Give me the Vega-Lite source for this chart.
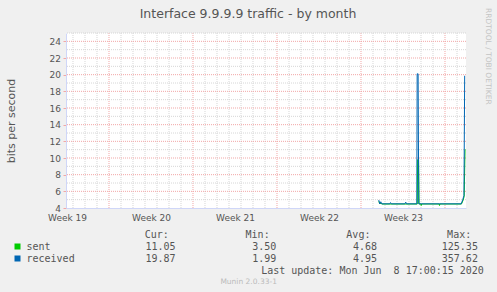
{
  "$schema": "https://vega.github.io/schema/vega-lite/v6.json",
  "background": "#f0f0f0",
  "padding": {"left": 5, "top": 8, "right": 5, "bottom": 7},
  "spacing": 8,
  "title": {"text": "RRDTOOL / TOBI OETIKER", "orient": "right", "anchor": "start", "frame": "bounds", "fontSize": 7.5, "color": "#c4c4c4", "offset": 1, "font": "DejaVu Sans", "fontWeight": "normal"},
  "config": {
    "font": "DejaVu Sans",
    "view": {"stroke": null},
    "axis": {"labelFont": "DejaVu Sans", "labelFontSize": 9, "labelColor": "#555555", "titleFont": "DejaVu Sans", "titleFontWeight": "normal", "titleColor": "#555555"},
    "text": {"font": "DejaVu Sans Mono", "fontSize": 10, "color": "#555555"},
    "title": {"fontWeight": "normal"}
  },
  "datasets": {
    "traffic": [
      {"series": "received", "day": 22.48, "bps": 4.95},
      {"series": "received", "day": 22.57, "bps": 4.5},
      {"series": "received", "day": 22.65, "bps": 4.75},
      {"series": "received", "day": 22.73, "bps": 4.5},
      {"series": "received", "day": 23.40, "bps": 4.5},
      {"series": "received", "day": 23.46, "bps": 4.65},
      {"series": "received", "day": 23.52, "bps": 4.5},
      {"series": "received", "day": 24.65, "bps": 4.5},
      {"series": "received", "day": 24.73, "bps": 4.7},
      {"series": "received", "day": 24.79, "bps": 4.5},
      {"series": "received", "day": 25.65, "bps": 4.5},
      {"series": "received", "day": 25.68, "bps": 20.1},
      {"series": "received", "day": 25.76, "bps": 20.1},
      {"series": "received", "day": 25.81, "bps": 4.5},
      {"series": "received", "day": 29.35, "bps": 4.5},
      {"series": "received", "day": 29.48, "bps": 5.0},
      {"series": "received", "day": 29.58, "bps": 5.5},
      {"series": "received", "day": 29.64, "bps": 19.87},
      {"series": "sent", "day": 22.48, "bps": 4.8},
      {"series": "sent", "day": 22.57, "bps": 4.48},
      {"series": "sent", "day": 22.65, "bps": 4.6},
      {"series": "sent", "day": 22.73, "bps": 4.48},
      {"series": "sent", "day": 25.69, "bps": 4.48},
      {"series": "sent", "day": 25.72, "bps": 9.8},
      {"series": "sent", "day": 25.80, "bps": 9.8},
      {"series": "sent", "day": 25.84, "bps": 4.48},
      {"series": "sent", "day": 26.0, "bps": 4.48},
      {"series": "sent", "day": 26.02, "bps": 4.3},
      {"series": "sent", "day": 26.05, "bps": 4.48},
      {"series": "sent", "day": 27.52, "bps": 4.48},
      {"series": "sent", "day": 27.54, "bps": 4.3},
      {"series": "sent", "day": 27.57, "bps": 4.48},
      {"series": "sent", "day": 29.37, "bps": 4.48},
      {"series": "sent", "day": 29.50, "bps": 4.9},
      {"series": "sent", "day": 29.60, "bps": 5.4},
      {"series": "sent", "day": 29.67, "bps": 11.05}
    ],
    "xgrid": [
      {"day": -3}, {"day": -2}, {"day": -1}, {"day": 0}, {"day": 1}, {"day": 2}, {"day": 3}, {"day": 4}, {"day": 5}, {"day": 6},
      {"day": 7}, {"day": 8}, {"day": 9}, {"day": 10}, {"day": 11}, {"day": 12}, {"day": 13}, {"day": 14}, {"day": 15}, {"day": 16},
      {"day": 17}, {"day": 18}, {"day": 19}, {"day": 20}, {"day": 21}, {"day": 22}, {"day": 23}, {"day": 24}, {"day": 25}, {"day": 26},
      {"day": 27}, {"day": 28}, {"day": 29}
    ],
    "ygrid": [
      {"bps": 5}, {"bps": 6}, {"bps": 7}, {"bps": 8}, {"bps": 9}, {"bps": 10}, {"bps": 11}, {"bps": 12}, {"bps": 13}, {"bps": 14}, {"bps": 15},
      {"bps": 16}, {"bps": 17}, {"bps": 18}, {"bps": 19}, {"bps": 20}, {"bps": 21}, {"bps": 22}, {"bps": 23}, {"bps": 24}, {"bps": 25}
    ],
    "stats": [
      {"series": "sent", "stat": "Cur", "value": 11.05},
      {"series": "sent", "stat": "Min", "value": 3.50},
      {"series": "sent", "stat": "Avg", "value": 4.68},
      {"series": "sent", "stat": "Max", "value": 125.35},
      {"series": "received", "stat": "Cur", "value": 19.87},
      {"series": "received", "stat": "Min", "value": 1.99},
      {"series": "received", "stat": "Avg", "value": 4.95},
      {"series": "received", "stat": "Max", "value": 357.62}
    ],
    "headers": [
      {"stat": "Cur", "label": "Cur:"},
      {"stat": "Min", "label": "Min:"},
      {"stat": "Avg", "label": "Avg:"},
      {"stat": "Max", "label": "Max:"}
    ],
    "update": [
      {"label": "Last update: Mon Jun \u00a08 17:00:15 2020"}
    ]
  },
  "vconcat": [
    {
      "width": 400,
      "height": 175,
      "view": {"fill": "white", "stroke": null},
      "title": {"text": "Interface 9.9.9.9 traffic - by month", "fontSize": 12.5, "color": "#555555", "anchor": "middle", "frame": "group", "dx": -18, "offset": 12, "font": "DejaVu Sans", "fontWeight": "normal"},
      "layer": [
        {
          "data": {"name": "xgrid"},
          "mark": {"type": "rule", "strokeWidth": 1, "strokeDash": [1, 1]},
          "encoding": {
            "x": {"field": "day", "type": "quantitative", "scale": {"domain": [-3.5833, 29.75], "nice": false, "zero": false},
              "axis": {"orient": "bottom", "values": [-3.5, 3.5, 10.5, 17.5, 24.5],
                "labelExpr": "'Week ' + (20 + floor(datum.value / 7))", "grid": false, "ticks": false,
                "domain": true, "domainColor": "#cfd6f8", "labelPadding": 5, "labelFlush": false, "labelOverlap": false, "title": null, "zindex": 1}},
            "color": {"condition": {"test": "datum.day % 7 === 0", "value": "#f2a7a7"}, "value": "#d6d6d6"}
          }
        },
        {
          "data": {"name": "ygrid"},
          "mark": {"type": "rule", "strokeWidth": 1, "strokeDash": [1, 1]},
          "encoding": {
            "y": {"field": "bps", "type": "quantitative", "scale": {"domain": [4, 25], "nice": false, "zero": false},
              "axis": {"orient": "left", "values": [4,6,8,10,12,14,16,18,20,22,24], "grid": false,
                "tickSize": 3, "tickColor": "#f2a7a7", "labelPadding": 2.5, "labelFlush": false, "labelOverlap": false,
                "domainColor": "#cfd6f8", "title": "bits per second", "titleFontSize": 11, "titlePadding": 33, "zindex": 1}},
            "color": {"condition": {"test": "datum.bps % 2 === 0", "value": "#f2a7a7"}, "value": "#d6d6d6"}
          }
        },
        {
          "data": {"name": "traffic"},
          "transform": [{"filter": "datum.series === 'sent'"}],
          "mark": {"type": "line", "strokeWidth": 1},
          "encoding": {
            "x": {"field": "day", "type": "quantitative", "scale": {"domain": [-3.5833, 29.75], "nice": false, "zero": false},
              "axis": {"orient": "bottom", "values": [-3.5, 3.5, 10.5, 17.5, 24.5],
                "labelExpr": "'Week ' + (20 + floor(datum.value / 7))", "grid": false, "ticks": false,
                "domain": true, "domainColor": "#cfd6f8", "labelPadding": 5, "labelFlush": false, "labelOverlap": false, "title": null, "zindex": 1}},
            "y": {"field": "bps", "type": "quantitative", "scale": {"domain": [4, 25], "nice": false, "zero": false},
              "axis": {"orient": "left", "values": [4,6,8,10,12,14,16,18,20,22,24], "grid": false,
                "tickSize": 3, "tickColor": "#f2a7a7", "labelPadding": 2.5, "labelFlush": false, "labelOverlap": false,
                "domainColor": "#cfd6f8", "title": "bits per second", "titleFontSize": 11, "titlePadding": 33, "zindex": 1}},
            "color": {"field": "series", "type": "nominal", "scale": {"domain": ["sent", "received"], "range": ["#00cc00", "#0066b3"]}, "legend": null}
          }
        },
        {
          "data": {"name": "traffic"},
          "transform": [{"filter": "datum.series === 'received'"}],
          "mark": {"type": "line", "strokeWidth": 1},
          "encoding": {
            "x": {"field": "day", "type": "quantitative", "scale": {"domain": [-3.5833, 29.75], "nice": false, "zero": false},
              "axis": {"orient": "bottom", "values": [-3.5, 3.5, 10.5, 17.5, 24.5],
                "labelExpr": "'Week ' + (20 + floor(datum.value / 7))", "grid": false, "ticks": false,
                "domain": true, "domainColor": "#cfd6f8", "labelPadding": 5, "labelFlush": false, "labelOverlap": false, "title": null, "zindex": 1}},
            "y": {"field": "bps", "type": "quantitative", "scale": {"domain": [4, 25], "nice": false, "zero": false},
              "axis": {"orient": "left", "values": [4,6,8,10,12,14,16,18,20,22,24], "grid": false,
                "tickSize": 3, "tickColor": "#f2a7a7", "labelPadding": 2.5, "labelFlush": false, "labelOverlap": false,
                "domainColor": "#cfd6f8", "title": "bits per second", "titleFontSize": 11, "titlePadding": 33, "zindex": 1}},
            "color": {"field": "series", "type": "nominal", "scale": {"domain": ["sent", "received"], "range": ["#00cc00", "#0066b3"]}, "legend": null}
          }
        }
      ]
    },
    {
      "width": 302.3,
      "height": 35.7,
      "title": {"text": "Munin 2.0.33-1", "orient": "bottom", "anchor": "middle", "frame": "group", "dx": 31.5, "offset": 2, "fontSize": 7.5, "color": "#bbbbbb", "font": "DejaVu Sans", "fontWeight": "normal"},
      "layer": [
        {
          "data": {"name": "stats"},
          "mark": {"type": "text", "align": "right", "baseline": "alphabetic", "dx": 109.6},
          "encoding": {
            "x": {"field": "stat", "type": "nominal", "scale": {"type": "point", "domain": ["Cur", "Min", "Avg", "Max"], "padding": 0}, "axis": null},
            "y": {"field": "series", "type": "nominal", "scale": {"type": "point", "domain": ["header", "sent", "received", "update"], "padding": 0},
              "axis": {"orient": "left", "values": ["sent", "received"], "offset": 46, "tickSize": 6, "tickWidth": 6, "tickCap": "butt",
                "tickColor": {"condition": {"test": "datum.value === 'sent'", "value": "#00cc00"}, "value": "#0066b3"},
                "tickOffset": -4, "labelOffset": 4, "labelAlign": "left", "labelBaseline": "alphabetic", "labelPadding": -12,
                "labelFont": "DejaVu Sans Mono", "labelFontSize": 10, "labelColor": "#555555", "domain": false, "grid": false, "title": null}},
            "text": {"field": "value", "type": "quantitative", "format": ".2f"}
          }
        },
        {
          "data": {"name": "headers"},
          "mark": {"type": "text", "align": "right", "baseline": "alphabetic", "dx": 102.9},
          "encoding": {
            "x": {"field": "stat", "type": "nominal", "axis": null},
            "y": {"datum": "header", "type": "nominal",
              "axis": {"orient": "left", "values": ["sent", "received"], "offset": 46, "tickSize": 6, "tickWidth": 6, "tickCap": "butt",
                "tickColor": {"condition": {"test": "datum.value === 'sent'", "value": "#00cc00"}, "value": "#0066b3"},
                "tickOffset": -4, "labelOffset": 4, "labelAlign": "left", "labelBaseline": "alphabetic", "labelPadding": -12,
                "labelFont": "DejaVu Sans Mono", "labelFontSize": 10, "labelColor": "#555555", "domain": false, "grid": false, "title": null}},
            "text": {"field": "label", "type": "nominal"}
          }
        },
        {
          "data": {"name": "update"},
          "mark": {"type": "text", "align": "right", "baseline": "alphabetic", "dx": 115.6},
          "encoding": {
            "x": {"datum": "Max", "type": "nominal", "axis": null},
            "y": {"datum": "update", "type": "nominal",
              "axis": {"orient": "left", "values": ["sent", "received"], "offset": 46, "tickSize": 6, "tickWidth": 6, "tickCap": "butt",
                "tickColor": {"condition": {"test": "datum.value === 'sent'", "value": "#00cc00"}, "value": "#0066b3"},
                "tickOffset": -4, "labelOffset": 4, "labelAlign": "left", "labelBaseline": "alphabetic", "labelPadding": -12,
                "labelFont": "DejaVu Sans Mono", "labelFontSize": 10, "labelColor": "#555555", "domain": false, "grid": false, "title": null}},
            "text": {"field": "label", "type": "nominal"}
          }
        }
      ]
    }
  ]
}
